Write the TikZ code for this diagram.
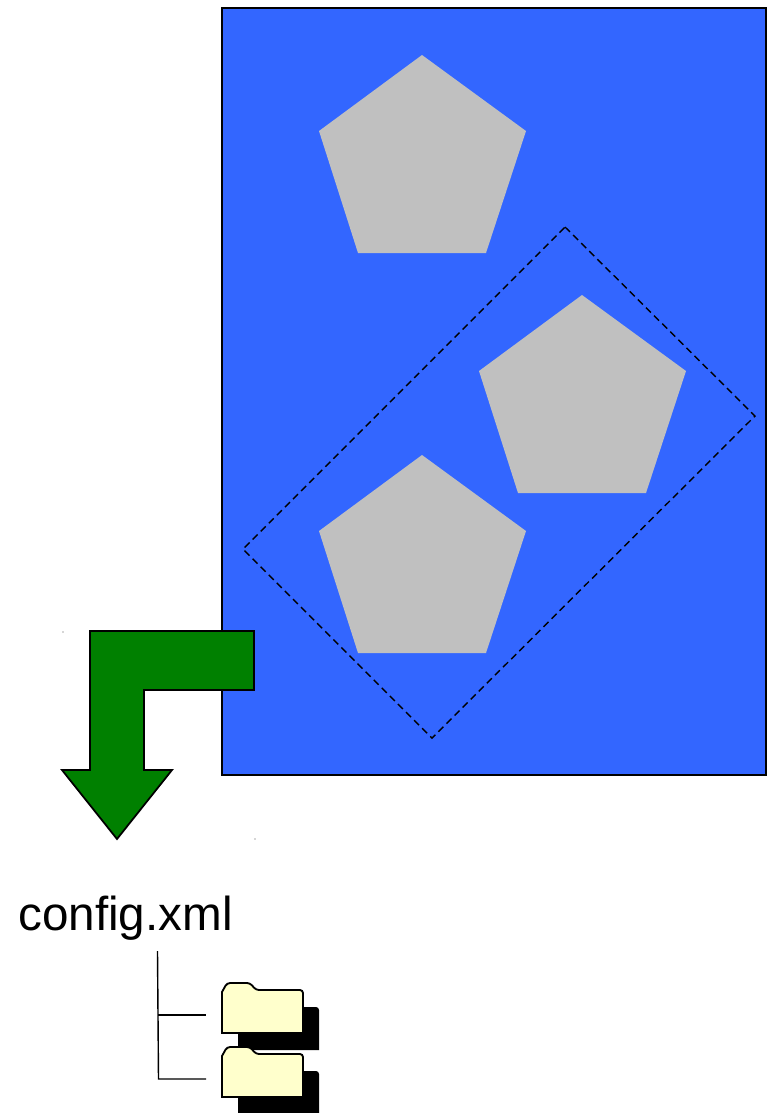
\documentclass[tikz,border=0pt]{standalone}
\usepackage{fontspec}
\setmainfont{Liberation Sans}
\definecolor{panelblue}{HTML}{3366FF}
\definecolor{pentagray}{HTML}{C0C0C0}
\definecolor{arrowgreen}{HTML}{008000}
\definecolor{folderyellow}{HTML}{FFFFCC}
\newcommand{\folderpath}{(222,1033) -- (222,992) [rounded corners=0.06cm] -- (227,983) -- (250,983) -- (256,990) -- (303,990) [sharp corners] -- (303,1033) -- cycle}

\begin{document}
\begin{tikzpicture}[x=0.02cm,y=-0.02cm,
    outline/.style={draw=black,line width=0.85pt},
    penta/.style={fill=pentagray},
    tree/.style={draw=black,line width=0.8pt}]
\useasboundingbox (0,0) rectangle (771,1113);

% Panel
\draw[outline,fill=panelblue] (222,8) rectangle (766,775);

% Pentagons
\foreach \dx/\dy in {0/0,160/240,0/400}
    \fill[penta,shift={(\dx*0.02cm,-\dy*0.02cm)}] (422,55) -- (526,131) -- (486,253) -- (358,253) -- (319,131) -- cycle;

% Dashed selection
\draw[black,line width=0.8pt,dash pattern=on 4pt off 2.5pt] (565,227) -- (755,416) -- (432,738) -- (243,549) -- cycle;

% Bent arrow
\draw[outline,fill=arrowgreen,line width=1pt,miter limit=4] (90,631) -- (254,631) -- (254,690) -- (144,690) -- (144,770) -- (172,770) -- (117,839) -- (62,770) -- (90,770) -- cycle;

% Specks
\fill[black!70] (63,632) circle (0.7);
\fill[black!70] (255,839) circle (0.7);

% File name
\node[anchor=base west,inner sep=0pt,font=\fontsize{27.1}{27}\selectfont] (config) at (18,930) {config.xml};

% Tree lines
\draw[tree] (157.5,951) -- (158.5,1079) -- (206,1079);
\draw[tree] (158,1015) -- (206,1015);

% Folders
\foreach \dy in {0,64} {
    \begin{scope}[shift={(0,-\dy*0.02cm)}]
    \begin{scope}[shift={(16*0.02cm,-17*0.02cm)}]
    \fill[black] \folderpath;
    \end{scope}
    \draw[outline,fill=folderyellow,line width=1.05pt] \folderpath;
    \end{scope}
}

\end{tikzpicture}
\end{document}
